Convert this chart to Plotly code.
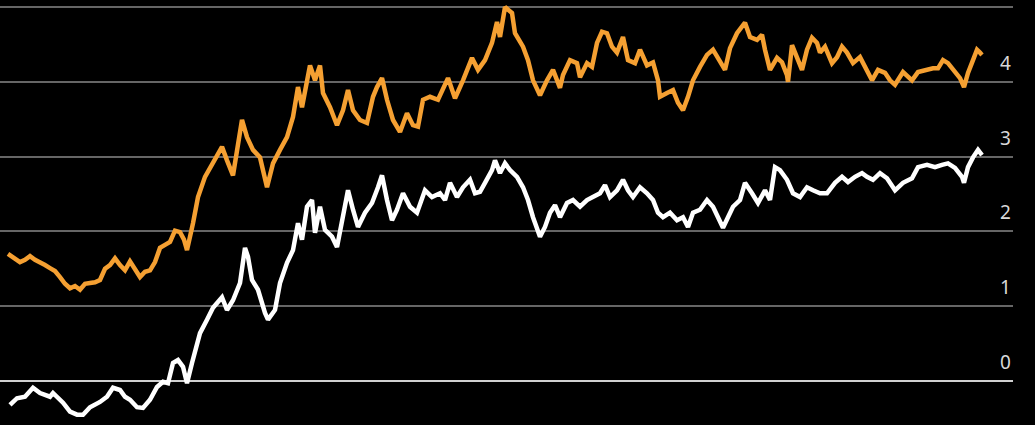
import plotly.graph_objects as go

# time index (trading-day units) and values for the orange series
orange_t = [0, 7, 12, 17, 22, 27, 32, 37, 42, 47, 52, 57, 62, 67, 72, 77, 82, 87, 92, 97,
            102, 107, 112, 117, 122, 127, 132, 137, 142, 147, 152, 157, 162, 167, 172, 176, 179, 185, 190, 197,
            205, 214, 219, 225, 234, 239, 245, 252, 259, 265, 272, 279, 285, 290, 294, 302, 307, 312, 315, 322,
            329, 335, 340, 345, 352, 359, 365, 369, 374, 379, 385, 392, 399, 405, 410, 415, 422, 430, 440, 447,
            455, 464, 470, 477, 484, 489, 492, 497, 504, 507, 515, 520, 525, 532, 539, 545, 552, 555, 562, 569,
            572, 579, 584, 589, 594, 599, 604, 609, 615, 620, 627, 632, 639, 645, 650, 652, 659, 665, 670, 675,
            680, 685, 692, 699, 705, 712, 717, 722, 729, 737, 742, 749, 754, 757, 762, 769, 774, 779, 780, 784,
            789, 794, 799, 804, 809, 812, 817, 824, 829, 834, 839, 845, 852, 859, 864, 870, 877, 882, 887, 895,
            904, 910, 919, 925, 930, 935, 940, 945, 952, 956, 960, 965, 969, 972, 974]
orange_v = [1.70, 1.64, 1.59, 1.62, 1.67, 1.62, 1.59, 1.55, 1.51, 1.47, 1.39, 1.30, 1.24, 1.27, 1.22, 1.30, 1.31, 1.32, 1.35, 1.50,
            1.55, 1.64, 1.55, 1.48, 1.60, 1.48, 1.39, 1.46, 1.48, 1.59, 1.78, 1.82, 1.86, 2.01, 1.99, 1.89, 1.75, 2.11, 2.46, 2.73,
            2.91, 3.13, 2.95, 2.75, 3.49, 3.26, 3.09, 2.99, 2.59, 2.91, 3.09, 3.26, 3.53, 3.93, 3.66, 4.22, 4.02, 4.22, 3.85, 3.66,
            3.42, 3.62, 3.89, 3.62, 3.49, 3.45, 3.80, 3.93, 4.05, 3.76, 3.49, 3.33, 3.58, 3.42, 3.40, 3.76, 3.80, 3.76, 4.05, 3.78,
            4.02, 4.32, 4.16, 4.29, 4.52, 4.80, 4.60, 5.00, 4.92, 4.65, 4.47, 4.29, 4.02, 3.82, 4.02, 4.16, 3.92, 4.09, 4.29, 4.25,
            4.06, 4.25, 4.20, 4.52, 4.67, 4.65, 4.47, 4.39, 4.60, 4.29, 4.25, 4.43, 4.22, 4.26, 4.02, 3.80, 3.85, 3.89, 3.72, 3.62,
            3.80, 4.02, 4.20, 4.36, 4.43, 4.26, 4.16, 4.45, 4.65, 4.79, 4.60, 4.56, 4.63, 4.43, 4.16, 4.32, 4.26, 4.09, 4.00, 4.49,
            4.33, 4.16, 4.43, 4.59, 4.52, 4.39, 4.47, 4.25, 4.33, 4.47, 4.39, 4.25, 4.33, 4.16, 4.02, 4.16, 4.12, 4.02, 3.96, 4.13,
            4.02, 4.13, 4.16, 4.18, 4.18, 4.29, 4.25, 4.16, 4.05, 3.93, 4.12, 4.29, 4.43, 4.39, 4.36]

white_t = [2, 9, 17, 25, 32, 42, 45, 55, 62, 69, 75, 82, 92, 99, 105, 112, 117, 122, 129, 135,
           142, 149, 155, 160, 165, 170, 175, 179, 184, 189, 192, 199, 205, 214, 219, 225, 232, 237, 240, 244,
           250, 257, 260, 267, 272, 279, 285, 290, 294, 299, 304, 307, 312, 317, 324, 329, 334, 340, 345, 350,
           357, 364, 370, 374, 379, 384, 389, 395, 402, 409, 417, 424, 432, 437, 442, 449, 455, 462, 467, 472,
           477, 484, 487, 492, 497, 502, 509, 515, 520, 525, 532, 537, 542, 547, 552, 559, 565, 572, 579, 585,
           592, 597, 602, 609, 615, 620, 625, 632, 639, 645, 650, 655, 662, 669, 675, 680, 685, 692, 699, 705,
           710, 715, 720, 725, 732, 737, 744, 750, 757, 762, 767, 772, 779, 785, 792, 799, 805, 812, 819, 827,
           834, 840, 847, 854, 859, 865, 872, 879, 887, 895, 904, 910, 919, 927, 934, 940, 947, 954, 956, 960,
           965, 970, 974]
white_v = [-0.32, -0.23, -0.21, -0.09, -0.16, -0.21, -0.16, -0.29, -0.41, -0.45, -0.45, -0.35, -0.28, -0.21, -0.09, -0.12, -0.21, -0.25, -0.35, -0.36,
           -0.25, -0.08, -0.01, -0.03, 0.24, 0.28, 0.19, -0.03, 0.24, 0.51, 0.64, 0.82, 0.98, 1.12, 0.95, 1.08, 1.31, 1.78, 1.66, 1.35,
           1.22, 0.91, 0.82, 0.95, 1.31, 1.58, 1.75, 2.11, 1.89, 2.33, 2.42, 1.98, 2.33, 2.02, 1.93, 1.79, 2.11, 2.55, 2.29, 2.06,
           2.25, 2.38, 2.59, 2.75, 2.42, 2.15, 2.29, 2.51, 2.33, 2.25, 2.55, 2.46, 2.51, 2.42, 2.65, 2.46, 2.59, 2.69, 2.51, 2.53,
           2.65, 2.82, 2.95, 2.78, 2.91, 2.82, 2.73, 2.59, 2.42, 2.19, 1.93, 2.06, 2.25, 2.35, 2.19, 2.38, 2.42, 2.33, 2.42, 2.46,
           2.51, 2.62, 2.46, 2.55, 2.69, 2.55, 2.46, 2.59, 2.51, 2.42, 2.25, 2.19, 2.25, 2.15, 2.19, 2.06, 2.25, 2.29, 2.42, 2.33,
           2.19, 2.05, 2.19, 2.33, 2.42, 2.65, 2.51, 2.38, 2.55, 2.42, 2.86, 2.82, 2.69, 2.51, 2.46, 2.59, 2.55, 2.51, 2.51, 2.65,
           2.73, 2.66, 2.73, 2.78, 2.73, 2.69, 2.78, 2.71, 2.55, 2.65, 2.71, 2.86, 2.89, 2.86, 2.89, 2.91, 2.85, 2.73, 2.65, 2.86,
           2.99, 3.09, 3.02]

tick_vals = [0, 1, 2, 3, 4]
tick_text = ["0", "1", "2", "3", "4"]

fig = go.Figure()
fig.add_trace(go.Scatter(x=white_t, y=white_v, mode="lines",
                         line=dict(color="#ffffff", width=4.5), hoverinfo="skip"))
fig.add_trace(go.Scatter(x=orange_t, y=orange_v, mode="lines",
                         line=dict(color="#f5a032", width=4.5), hoverinfo="skip"))

annotations = [dict(x=1, xref="paper", xanchor="right", y=v, yref="y", yanchor="middle",
                    yshift=19, text=t, showarrow=False,
                    font=dict(family="Noto Sans", size=19, color="#d9d9d9"))
               for v, t in zip(tick_vals, tick_text)]

fig.update_layout(
    width=1035, height=425,
    margin=dict(l=0, r=22, t=0, b=0),
    paper_bgcolor="#000000", plot_bgcolor="#000000",
    showlegend=False,
    xaxis=dict(range=[-8, 1005], showgrid=False, zeroline=False, showticklabels=False,
               showline=False, fixedrange=True),
    yaxis=dict(range=[-0.588, 5.094], dtick=1, tick0=0, showgrid=True, gridcolor="#666666",
               gridwidth=2, zeroline=True, zerolinecolor="#d0d0d0", zerolinewidth=2,
               showticklabels=False, showline=False, fixedrange=True),
    annotations=annotations,
)

fig.write_html("out.html", config={"displayModeBar": False},
               post_script="document.body.style.margin='0';document.body.style.background='#000';")
